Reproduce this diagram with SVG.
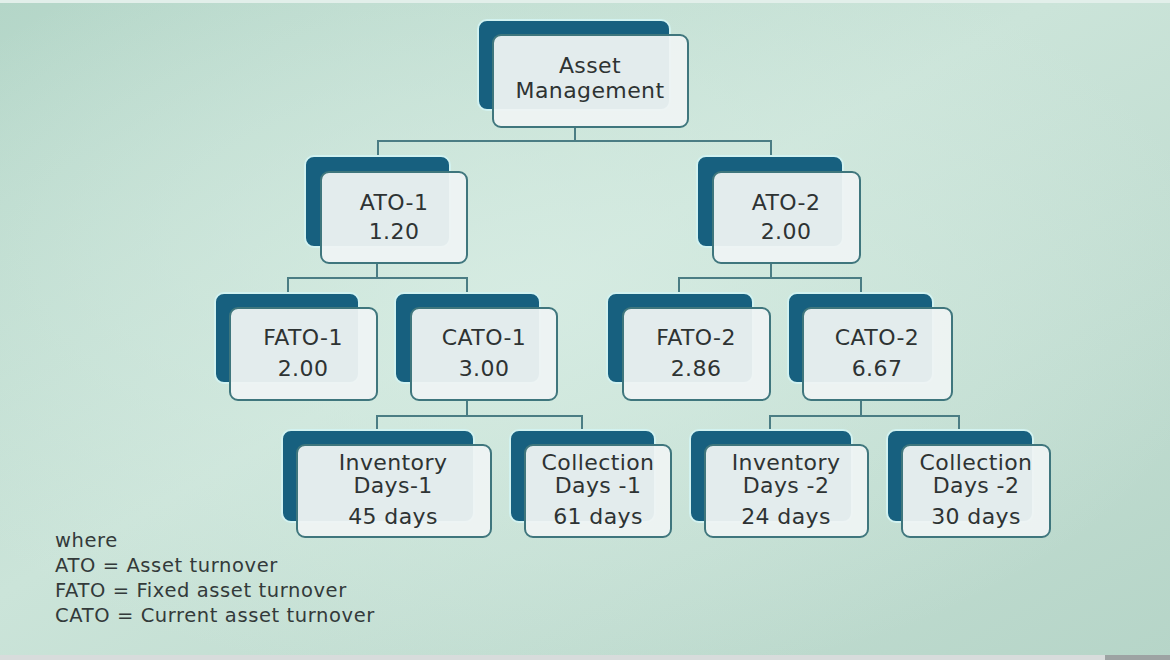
<svg xmlns="http://www.w3.org/2000/svg" width="1170" height="660" viewBox="0 0 1170 660">
<defs>
<linearGradient id="bg" x1="0" y1="0" x2="1" y2="1">
<stop offset="0" stop-color="#b4d6c8"/>
<stop offset="0.45" stop-color="#cbe4d9"/>
<stop offset="1" stop-color="#b6d5c8"/>
</linearGradient>
<radialGradient id="glow" cx="0.45" cy="0.45" r="0.6">
<stop offset="0" stop-color="#d8ede4" stop-opacity="0.8"/>
<stop offset="1" stop-color="#d8ede4" stop-opacity="0"/>
</radialGradient>
<style>
.back{fill:#17607f;stroke:#d2f2f0;stroke-width:2}
.front{fill:#eef3f3;fill-opacity:0.95;stroke:#3f767d;stroke-width:2}
.t{font-family:"DejaVu Sans",sans-serif;font-size:22px;letter-spacing:0.4px;fill:#2e3333;text-anchor:middle}
.leg{font-family:"DejaVu Sans",sans-serif;font-size:19.5px;letter-spacing:0.6px;fill:#333a3a}
.conn{fill:none;stroke:#4b7d84;stroke-width:2}
</style>
</defs>
<rect width="1170" height="660" fill="url(#bg)"/>
<rect width="1170" height="660" fill="url(#glow)"/>
<rect x="0" y="0" width="1170" height="3" fill="#e2efea"/>
<rect x="0" y="655" width="1170" height="5" fill="#9da3a3"/>
<rect x="0" y="655" width="1105" height="5" fill="#d8dcdc"/>

<g id="connectors">
<path class="conn" d="M575 127 V141 M378 172 V141 H771 V172"/>
<path class="conn" d="M377 263 V278 M288 308 V278 H467 V308"/>
<path class="conn" d="M771 263 V278 M679 308 V278 H861 V308"/>
<path class="conn" d="M467 400 V416 M377 445 V416 H582 V445"/>
<path class="conn" d="M861 400 V416 M770 445 V416 H959 V445"/>
</g>

<g id="asset-management">
<rect class="back" x="478" y="20" width="192" height="90" rx="9"/>
<rect class="front" x="493" y="35" width="195" height="92" rx="8"/>
<text class="t" x="590" y="73">Asset</text>
<text class="t" x="590" y="98">Management</text>
</g>

<g id="ato-1">
<rect class="back" x="305" y="156" width="145" height="91" rx="9"/>
<rect class="front" x="321" y="172" width="146" height="91" rx="8"/>
<text class="t" x="394" y="210">ATO-1</text>
<text class="t" x="394" y="239">1.20</text>
</g>

<g id="ato-2">
<rect class="back" x="697" y="156" width="146" height="91" rx="9"/>
<rect class="front" x="713" y="172" width="147" height="91" rx="8"/>
<text class="t" x="786" y="210">ATO-2</text>
<text class="t" x="786" y="239">2.00</text>
</g>

<g id="fato-1">
<rect class="back" x="215" y="293" width="144" height="90" rx="9"/>
<rect class="front" x="230" y="308" width="147" height="92" rx="8"/>
<text class="t" x="303" y="345">FATO-1</text>
<text class="t" x="303" y="376">2.00</text>
</g>

<g id="cato-1">
<rect class="back" x="395" y="293" width="145" height="90" rx="9"/>
<rect class="front" x="411" y="308" width="146" height="92" rx="8"/>
<text class="t" x="484" y="345">CATO-1</text>
<text class="t" x="484" y="376">3.00</text>
</g>

<g id="fato-2">
<rect class="back" x="607" y="293" width="146" height="90" rx="9"/>
<rect class="front" x="623" y="308" width="147" height="92" rx="8"/>
<text class="t" x="696" y="345">FATO-2</text>
<text class="t" x="696" y="376">2.86</text>
</g>

<g id="cato-2">
<rect class="back" x="788" y="293" width="145" height="90" rx="9"/>
<rect class="front" x="803" y="308" width="149" height="92" rx="8"/>
<text class="t" x="877" y="345">CATO-2</text>
<text class="t" x="877" y="376">6.67</text>
</g>

<g id="inventory-days-1">
<rect class="back" x="282" y="430" width="192" height="92" rx="9"/>
<rect class="front" x="297" y="445" width="194" height="92" rx="8"/>
<text class="t" x="393" y="470">Inventory</text>
<text class="t" x="393" y="493">Days-1</text>
<text class="t" x="393" y="524">45 days</text>
</g>

<g id="collection-days-1">
<rect class="back" x="510" y="430" width="145" height="92" rx="9"/>
<rect class="front" x="525" y="445" width="146" height="92" rx="8"/>
<text class="t" x="598" y="470">Collection</text>
<text class="t" x="598" y="493">Days -1</text>
<text class="t" x="598" y="524">61 days</text>
</g>

<g id="inventory-days-2">
<rect class="back" x="690" y="430" width="162" height="92" rx="9"/>
<rect class="front" x="705" y="445" width="163" height="92" rx="8"/>
<text class="t" x="786" y="470">Inventory</text>
<text class="t" x="786" y="493">Days -2</text>
<text class="t" x="786" y="524">24 days</text>
</g>

<g id="collection-days-2">
<rect class="back" x="887" y="430" width="146" height="92" rx="9"/>
<rect class="front" x="902" y="445" width="148" height="92" rx="8"/>
<text class="t" x="976" y="470">Collection</text>
<text class="t" x="976" y="493">Days -2</text>
<text class="t" x="976" y="524">30 days</text>
</g>

<g id="legend">
<text class="leg" x="55" y="547">where</text>
<text class="leg" x="55" y="572">ATO = Asset turnover</text>
<text class="leg" x="55" y="597">FATO = Fixed asset turnover</text>
<text class="leg" x="55" y="622">CATO = Current asset turnover</text>
</g>
</svg>
